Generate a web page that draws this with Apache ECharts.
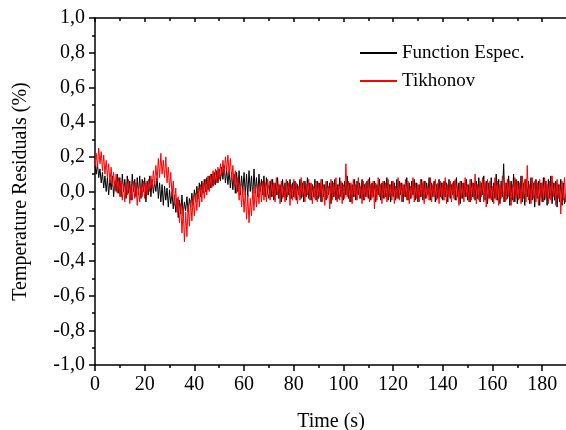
<!DOCTYPE html>
<html>
<head>
<meta charset="utf-8">
<script src="https://cdn.jsdelivr.net/npm/echarts@6/dist/echarts.min.js"></script>
<style>html,body{margin:0;padding:0;background:#fff}#c{width:566px;height:430px}</style>
</head>
<body>
<div id="c"></div>
<script>
// Sampling step of the time series (s)
const timeStep = 0.5;
const xTicks = [0, 20, 40, 60, 80, 100, 120, 140, 160, 180];
const yTicks = [-1.0, -0.8, -0.6, -0.4, -0.2, 0.0, 0.2, 0.4, 0.6, 0.8, 1.0];
const seriesNames = ['Function Espec.', 'Tikhonov'];

// Function Espec. residuals (%), t = 0 .. 190 s every 0.5 s
const functionEspec = [
 0.15, 0.10, 0.16, 0.08, 0.13, 0.05, 0.11, 0.02, 0.09, 0.00, 0.08, -0.02, 0.07, 0.01, 0.09, -0.03, 0.06, 0.00, 0.10, -0.01,
 0.08, -0.03, 0.10, 0.00, 0.07, -0.04, 0.09, -0.01, 0.06, -0.05, 0.10, 0.00, 0.07, -0.03, 0.08, -0.02, 0.09, -0.04, 0.07, 0.00,
 0.08, -0.06, 0.06, -0.02, 0.09, -0.03, 0.07, -0.01, 0.06, 0.00, 0.08, -0.04, 0.05, -0.06, 0.04, -0.08, 0.03, -0.05, 0.02, -0.09,
 0.01, -0.07, 0.00, -0.10, -0.02, -0.12, -0.04, -0.15, -0.05, -0.13, -0.02, -0.14, -0.06, -0.11, -0.03, -0.12, -0.04, -0.09, -0.01, -0.08,
 0.01, -0.06, 0.03, -0.04, 0.05, -0.03, 0.06, -0.01, 0.07, 0.00, 0.08, 0.01, 0.09, 0.02, 0.10, 0.03, 0.11, 0.04, 0.12, 0.05,
 0.13, 0.06, 0.14, 0.07, 0.15, 0.05, 0.13, 0.04, 0.12, 0.02, 0.11, 0.01, 0.10, -0.01, 0.11, 0.00, 0.12, -0.02, 0.09, 0.00,
 0.11, -0.02, 0.10, -0.03, 0.12, 0.00, 0.09, -0.04, 0.13, -0.01, 0.08, -0.03, 0.10, 0.00, 0.07, -0.02, 0.09, -0.03, 0.08, -0.01,
 -0.04, 0.06, -0.03, 0.07, -0.05, 0.05, -0.02, 0.08, -0.04, 0.04, -0.06, 0.07, -0.03, 0.05, -0.05, 0.06, -0.02, 0.07, -0.04, 0.05,
 -0.03, 0.06, -0.05, 0.04, -0.02, 0.07, -0.04, 0.05, -0.06, 0.06, -0.03, 0.08, -0.04, 0.05, -0.05, 0.04, -0.03, 0.07, -0.05, 0.06,
 -0.04, 0.05, -0.06, 0.07, -0.03, 0.04, -0.05, 0.06, -0.02, 0.05, -0.07, 0.06, -0.03, 0.07, -0.05, 0.04, -0.04, 0.08, -0.03, 0.05,
 -0.05, 0.06, -0.02, 0.09, -0.04, 0.05, -0.06, 0.04, -0.03, 0.07, -0.05, 0.06, -0.02, 0.05, -0.04, 0.07, -0.05, 0.04, -0.03, 0.06,
 -0.04, 0.08, -0.05, 0.05, -0.03, 0.06, -0.06, 0.04, -0.02, 0.07, -0.05, 0.05, -0.04, 0.06, -0.03, 0.08, -0.05, 0.04, -0.06, 0.06,
 -0.03, 0.05, -0.05, 0.07, -0.04, 0.06, -0.02, 0.05, -0.06, 0.04, -0.03, 0.08, -0.05, 0.05, -0.04, 0.06, -0.02, 0.07, -0.05, 0.05,
 -0.06, 0.04, -0.03, 0.07, -0.05, 0.06, -0.04, 0.05, -0.02, 0.08, -0.05, 0.05, -0.03, 0.06, -0.06, 0.04, -0.04, 0.07, -0.03, 0.05,
 -0.05, 0.06, -0.03, 0.05, -0.06, 0.07, -0.04, 0.04, -0.02, 0.06, -0.05, 0.08, -0.03, 0.05, -0.07, 0.06, -0.04, 0.05, -0.03, 0.07,
 -0.05, 0.04, -0.06, 0.07, -0.03, 0.05, -0.05, 0.06, -0.04, 0.08, -0.06, 0.05, -0.02, 0.09, -0.05, 0.06, -0.07, 0.05, -0.04, 0.08,
 -0.06, 0.05, -0.04, 0.10, -0.05, 0.07, -0.07, 0.06, -0.03, 0.16, -0.06, 0.05, -0.04, 0.09, -0.08, 0.06, -0.05, 0.10, -0.06, 0.07,
 -0.07, 0.06, -0.04, 0.09, -0.06, 0.05, -0.08, 0.07, -0.03, 0.06, -0.07, 0.08, -0.05, 0.05, -0.09, 0.07, -0.04, 0.06, -0.08, 0.05,
 -0.06, 0.08, -0.05, 0.06, -0.08, 0.07, -0.04, 0.09, -0.07, 0.05, -0.05, 0.06, -0.09, 0.04, -0.06, 0.07, -0.08, 0.05, -0.07, -0.03,
 -0.07
];

// Tikhonov residuals (%), t = 0 .. 190 s every 0.5 s
const tikhonov = [
 0.15, 0.22, 0.14, 0.25, 0.16, 0.23, 0.12, 0.21, 0.10, 0.18, 0.08, 0.16, 0.05, 0.14, 0.03, 0.11, 0.01, 0.10, -0.01, 0.08,
 -0.03, 0.06, -0.05, 0.04, -0.06, 0.05, -0.02, 0.07, -0.07, 0.03, -0.05, 0.06, -0.04, 0.05, -0.08, 0.02, -0.06, 0.04, -0.03, 0.06,
 -0.04, 0.05, -0.02, 0.07, 0.00, 0.09, 0.02, 0.12, 0.04, 0.15, 0.06, 0.19, 0.08, 0.22, 0.10, 0.18, 0.08, 0.20, 0.05, 0.14,
 0.02, 0.11, -0.03, 0.06, -0.08, 0.02, -0.12, -0.03, -0.18, -0.07, -0.24, -0.10, -0.29, -0.12, -0.26, -0.08, -0.20, -0.05, -0.17, -0.03,
 -0.14, -0.01, -0.11, 0.02, -0.09, 0.04, -0.06, 0.05, -0.04, 0.07, -0.02, 0.09, 0.00, 0.10, 0.02, 0.12, 0.04, 0.13, 0.05, 0.14,
 0.07, 0.16, 0.09, 0.18, 0.10, 0.20, 0.12, 0.21, 0.10, 0.19, 0.07, 0.15, 0.03, 0.12, -0.01, 0.08, -0.05, 0.04, -0.09, 0.02,
 -0.12, 0.00, -0.16, -0.02, -0.18, -0.04, -0.14, 0.01, -0.11, 0.03, -0.09, 0.04, -0.07, 0.05, -0.06, 0.06, -0.05, 0.05, -0.06, 0.07,
 0.06, -0.05, 0.07, -0.03, 0.05, -0.06, 0.08, -0.02, 0.04, -0.07, 0.06, -0.04, 0.03, -0.06, 0.07, -0.03, 0.05, -0.08, 0.04, -0.05,
 0.07, -0.04, 0.05, -0.07, 0.03, -0.05, 0.08, -0.03, 0.06, -0.06, 0.04, -0.02, 0.07, -0.05, 0.05, -0.07, 0.03, -0.04, 0.06, -0.06,
 0.05, -0.03, 0.07, -0.06, 0.04, -0.08, 0.06, -0.04, 0.03, -0.10, 0.07, -0.05, 0.05, -0.03, 0.08, -0.06, 0.04, -0.05, 0.06, -0.07,
 0.04, -0.04, 0.16, -0.03, 0.06, -0.06, 0.05, -0.07, 0.07, -0.03, 0.04, -0.05, 0.08, -0.04, 0.03, -0.07, 0.06, -0.05, 0.05, -0.03,
 0.07, -0.06, 0.04, -0.04, 0.06, -0.10, 0.05, -0.05, 0.08, -0.03, 0.04, -0.07, 0.06, -0.04, 0.05, -0.06, 0.07, -0.03, 0.04, -0.05,
 0.06, -0.07, 0.03, -0.04, 0.08, -0.05, 0.05, -0.06, 0.04, -0.03, 0.07, -0.05, 0.06, -0.07, 0.03, -0.04, 0.08, -0.06, 0.05, -0.04,
 0.04, -0.06, 0.07, -0.03, 0.05, -0.07, 0.06, -0.04, 0.03, -0.05, 0.08, -0.06, 0.04, -0.03, 0.07, -0.05, 0.05, -0.07, 0.06, -0.04,
 0.05, -0.05, 0.08, -0.07, 0.04, -0.03, 0.06, -0.06, 0.05, -0.04, 0.07, -0.05, 0.03, -0.08, 0.06, -0.04, 0.05, -0.06, 0.08, -0.03,
 0.04, -0.06, 0.07, -0.05, 0.05, -0.04, 0.10, -0.07, 0.04, -0.05, 0.06, -0.03, 0.08, -0.06, 0.05, -0.09, 0.07, -0.04, 0.06, -0.05,
 0.03, -0.07, 0.08, -0.05, 0.06, -0.08, 0.04, -0.04, 0.09, -0.06, 0.05, -0.05, 0.07, -0.03, 0.06, -0.08, 0.04, -0.06, 0.08, -0.04,
 0.06, -0.05, 0.05, -0.07, 0.09, -0.04, 0.07, -0.06, 0.15, -0.05, 0.04, -0.07, 0.08, -0.04, 0.06, -0.06, 0.05, -0.08, 0.07, -0.03,
 0.05, -0.06, 0.08, -0.04, 0.04, -0.07, 0.06, -0.05, 0.09, -0.03, 0.05, -0.08, 0.07, -0.04, 0.04, -0.13, 0.06, -0.05, 0.08, -0.06,
 0.02
];

const toPairs = arr => arr.map((v, i) => [i * timeStep, v]);
const FONT = '"Liberation Serif", "Times New Roman", serif';
const commaFmt = v => v.toFixed(1).replace('.', ',');

const chart = echarts.init(document.getElementById('c'), null, {renderer: 'canvas'});
const axisLine = {show: true, onZero: false, lineStyle: {color: '#000', width: 1.5}};
chart.setOption({
  animation: false,
  backgroundColor: '#fff',
  grid: {left: 95, top: 18, width: 472, height: 347, containLabel: false, outerBoundsMode: 'none'},
  legend: {
    orient: 'vertical', left: 360, top: 43, padding: 0, itemGap: 8,
    itemWidth: 37, itemHeight: 2, icon: 'rect',
    data: seriesNames,
    textStyle: {fontFamily: FONT, fontSize: 19, color: '#000', lineHeight: 20}
  },
  xAxis: [{
    type: 'value', min: 0, max: 190, interval: 20, position: 'bottom',
    name: 'Time (s)', nameLocation: 'middle', nameGap: 47,
    nameTextStyle: {fontFamily: FONT, fontSize: 20, color: '#000'},
    axisLine: axisLine,
    axisTick: {show: true, inside: false, length: 6, lineStyle: {color: '#000', width: 1.5}},
    minorTick: {show: true, splitNumber: 2, length: 3, lineStyle: {color: '#000', width: 1.5}},
    axisLabel: {fontFamily: FONT, fontSize: 20, color: '#000', margin: 10, showMaxLabel: false,
      formatter: v => xTicks.includes(v) ? String(v) : ''},
    splitLine: {show: false}
  }, {
    type: 'value', min: 0, max: 190, interval: 20, position: 'top',
    axisLine: axisLine,
    axisTick: {show: true, inside: true, length: 4, lineStyle: {color: '#000', width: 1.5}},
    minorTick: {show: true, splitNumber: 2, length: 3, lineStyle: {color: '#000', width: 1.5}},
    axisLabel: {show: false}, splitLine: {show: false}
  }],
  yAxis: [{
    type: 'value', min: -1.0, max: 1.0, interval: 0.2, position: 'left',
    name: 'Temperature Residuals (%)', nameLocation: 'middle', nameGap: 64, nameRotate: 90,
    nameTextStyle: {fontFamily: FONT, fontSize: 20, color: '#000'},
    axisLine: axisLine,
    axisTick: {show: true, inside: false, length: 6, lineStyle: {color: '#000', width: 1.5}},
    minorTick: {show: true, splitNumber: 2, length: 3, lineStyle: {color: '#000', width: 1.5}},
    axisLabel: {fontFamily: FONT, fontSize: 20, color: '#000', margin: 10,
      formatter: v => commaFmt(yTicks.reduce((a, b) => Math.abs(b - v) < Math.abs(a - v) ? b : a))},
    splitLine: {show: false}
  }, {
    type: 'value', min: -1.0, max: 1.0, interval: 0.2, position: 'right',
    axisLine: axisLine, axisTick: {show: false}, axisLabel: {show: false}, splitLine: {show: false}
  }],
  series: [{
    name: seriesNames[0], type: 'line', data: toPairs(functionEspec),
    showSymbol: false, symbol: 'none', lineStyle: {color: '#000', width: 1}, itemStyle: {color: '#000'}
  }, {
    name: seriesNames[1], type: 'line', data: toPairs(tikhonov),
    showSymbol: false, symbol: 'none', lineStyle: {color: '#ff0000', width: 1}, itemStyle: {color: '#ff0000'}
  }]
});
</script>
</body>
</html>
